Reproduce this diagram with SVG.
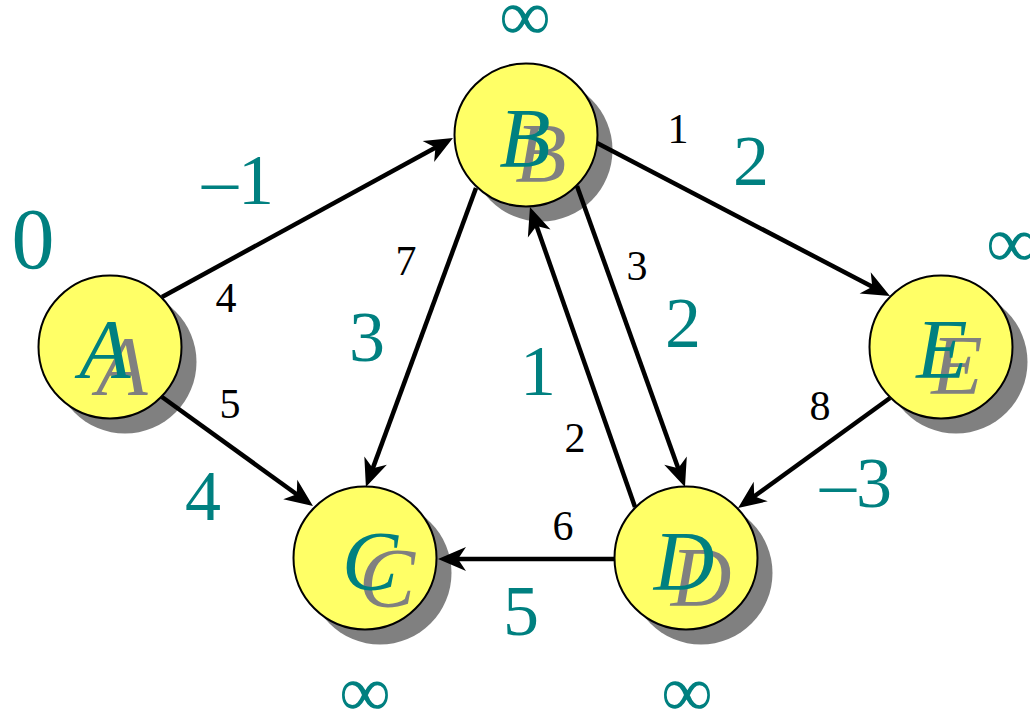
<svg xmlns="http://www.w3.org/2000/svg" width="1030" height="711" viewBox="0 0 1030 711">
<style>
.shadow{fill:#808080;}
.node{fill:#ffff66;stroke:#000;stroke-width:2;}
.lt{font-family:"Liberation Serif","Times New Roman",serif;font-style:italic;font-size:84px;text-anchor:middle;}
.lg{fill:#808080;}
.lc{fill:#008080;}
.w{font-family:"Liberation Serif","Times New Roman",serif;font-size:42px;fill:#000;text-anchor:middle;}
.d{font-family:"Liberation Serif","Times New Roman",serif;font-size:72px;fill:#008080;text-anchor:middle;}
.e{fill:none;stroke:#000;stroke-width:4.5;marker-end:url(#ah);}
</style>
<defs>
<marker id="ah" markerUnits="userSpaceOnUse" viewBox="-15 -13 32 26" refX="0" refY="0" markerWidth="32" markerHeight="26" orient="auto">
<path d="M15,0 L-13,-12 L-5,0 L-13,12 Z" fill="#000"/>
</marker>
</defs>
<g id="node-A">
<circle class="shadow" cx="125" cy="362" r="71.5"/>
<circle class="node" cx="110" cy="347" r="71.5"/>
<text class="lt lg" x="122" y="395">A</text>
<text class="lt lc" x="105" y="378">A</text>
</g>
<g id="node-B">
<circle class="shadow" cx="541" cy="150" r="71.5"/>
<circle class="node" cx="526" cy="135" r="71.5"/>
<text class="lt lg" x="541" y="182">B</text>
<text class="lt lc" x="525" y="167">B</text>
</g>
<g id="node-C">
<circle class="shadow" cx="380" cy="573" r="71.5"/>
<circle class="node" cx="365" cy="558" r="71.5"/>
<text class="lt lg" x="387" y="607">C</text>
<text class="lt lc" x="370" y="590">C</text>
</g>
<g id="node-D">
<circle class="shadow" cx="701" cy="573" r="71.5"/>
<circle class="node" cx="686" cy="558" r="71.5"/>
<text class="lt lg" x="701" y="606">D</text>
<text class="lt lc" x="684" y="590">D</text>
</g>
<g id="node-E">
<circle class="shadow" cx="956" cy="362" r="71.5"/>
<circle class="node" cx="941" cy="347" r="71.5"/>
<text class="lt lg" x="957" y="394">E</text>
<text class="lt lc" x="942" y="378">E</text>
</g>
<g id="connectors">
<path class="e" d="M162,297 L439.8,145.2"/>
<path class="e" d="M162,397 L300.8,497.2"/>
<path class="e" d="M476,188 L371.1,472.9"/>
<path class="e" d="M577,186 L679.9,472.9"/>
<path class="e" d="M635,507 L534.9,221.2"/>
<path class="e" d="M597,143 L876.7,289"/>
<path class="e" d="M890,398 L750.2,499.2"/>
<path class="e" d="M614,559 L453,559"/>
</g>
<g id="weights">
<text class="w" x="678" y="143">1</text>
<text class="w" x="226" y="312">4</text>
<text class="w" x="230" y="418">5</text>
<text class="w" x="406" y="275">7</text>
<text class="w" x="637" y="280">3</text>
<text class="w" x="575" y="452">2</text>
<text class="w" x="563" y="540">6</text>
<text class="w" x="820" y="420">8</text>
</g>
<g id="distances">
<text class="d" x="33" y="268" style="font-size:86px">0</text>
<text class="d" x="238" y="204">–1</text>
<text class="d" x="751" y="185">2</text>
<text class="d" x="367" y="361">3</text>
<text class="d" x="203" y="520">4</text>
<text class="d" x="538" y="395">1</text>
<text class="d" x="683" y="347">2</text>
<text class="d" x="856" y="507">–3</text>
<text class="d" x="521" y="635">5</text>
<text class="d" x="525" y="40">∞</text>
<text class="d" x="1012" y="267">∞</text>
<text class="d" x="365" y="716">∞</text>
<text class="d" x="687" y="716">∞</text>
</g>
</svg>
